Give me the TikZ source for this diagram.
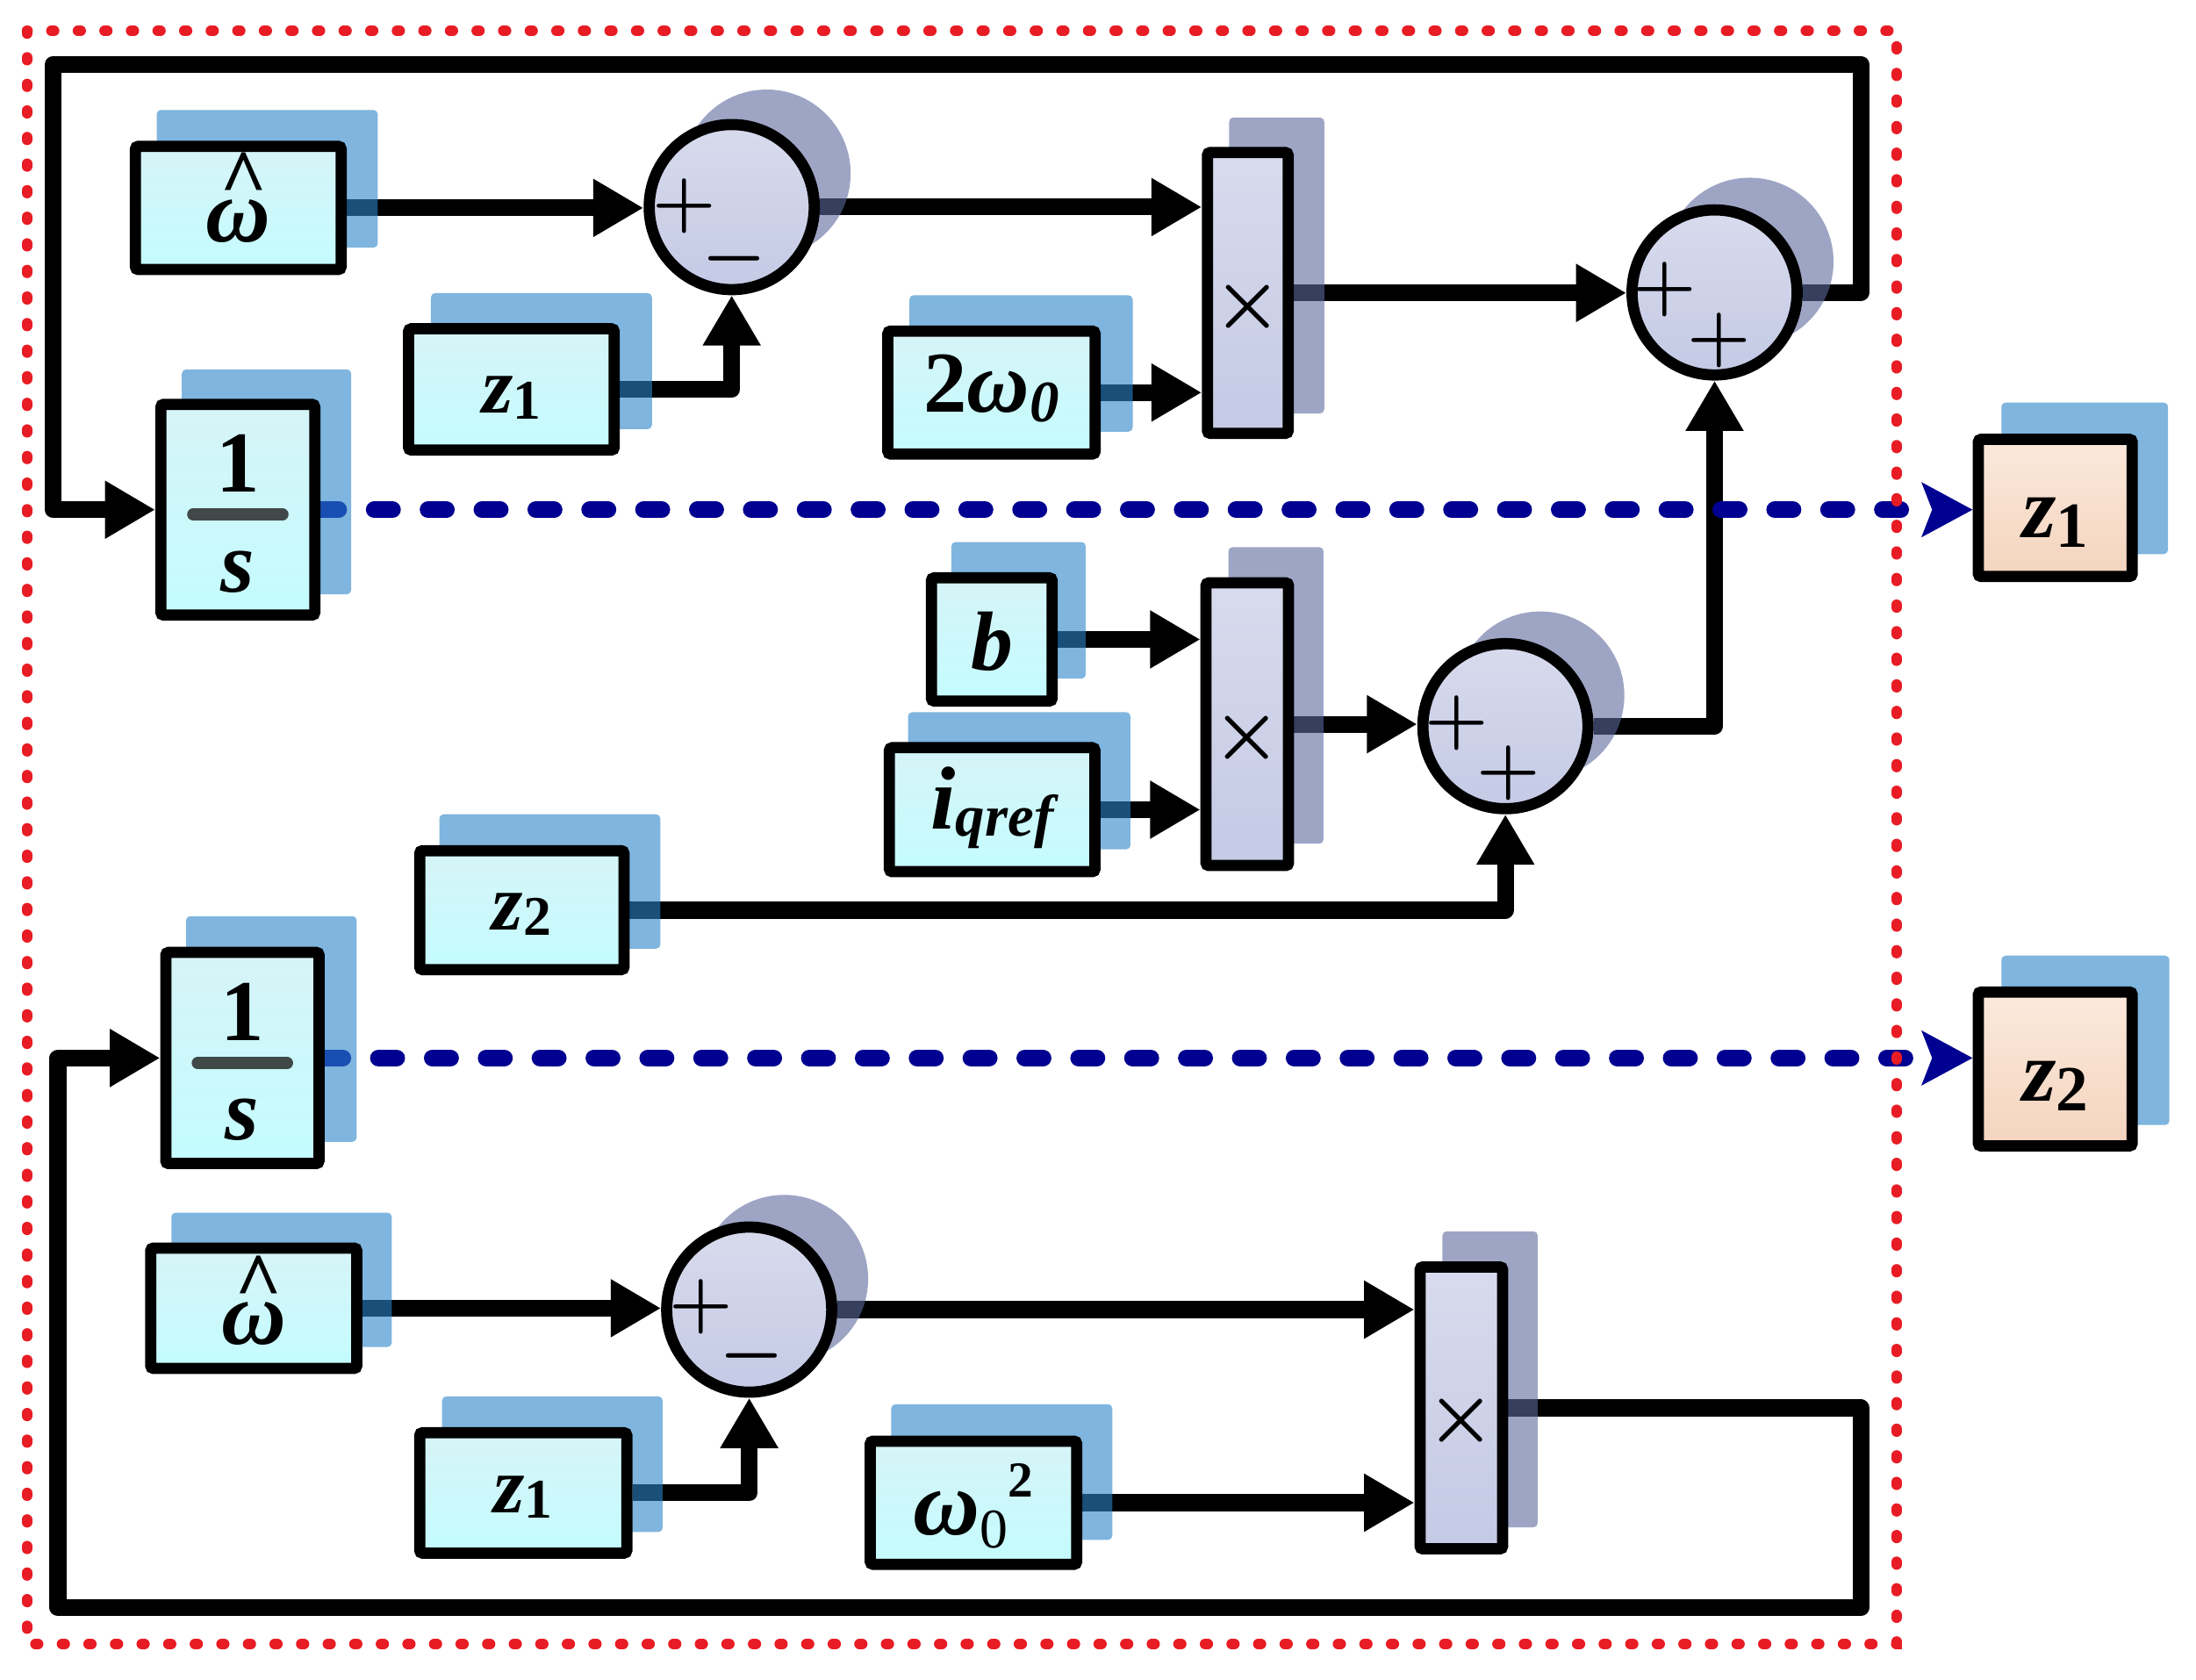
\RequirePackage{fix-cm}
\documentclass[tikz,border=0pt]{standalone}
\usepackage{fontspec}
\setmainfont{Liberation Serif}
\usetikzlibrary{arrows.meta,calc}
\definecolor{cyT}{RGB}{214,244,247}
\definecolor{cyB}{RGB}{196,252,255}
\definecolor{shB}{RGB}{42,132,200}
\definecolor{lvT}{RGB}{216,219,237}
\definecolor{lvB}{RGB}{196,202,229}
\definecolor{shL}{RGB}{93,105,157}
\definecolor{pcT}{RGB}{251,233,220}
\definecolor{pcB}{RGB}{244,212,190}
\definecolor{navyc}{RGB}{0,0,145}
\definecolor{redc}{RGB}{232,28,36}
\definecolor{barc}{RGB}{64,72,72}
\pgfdeclarelayer{conn}\pgfdeclarelayer{shad}\pgfdeclarelayer{front}
\pgfsetlayers{conn,shad,main,front}
\newcommand\fsz[1]{\fontsize{#1}{#1}\selectfont}
\newcommand\what[1]{{\fsz{#1}\bfseries\itshape\ooalign{ω\cr\hidewidth\kern0.1em\raisebox{0.4em}{\fsz{58}\textasciicircum}\hidewidth\cr}}}
\newcommand\blk[7]{%
  \pgfmathsetmacro\bw{#4-#2-8}%
  \pgfmathsetmacro\bh{#5-#3-8}%
  \node[#6, minimum width=\bw pt, minimum height=\bh pt] (#1) at ({(#2+#4)/2},{(#3+#5)/2}) {#7};}
\begin{document}
\begin{tikzpicture}[x=1pt,y=-1pt,
  bbox/.style={draw, line width=8pt, top color=cyT, bottom color=cyB, rounded corners=2pt, inner sep=0pt, text depth=0pt},
  pbox/.style={draw, line width=8pt, top color=pcT, bottom color=pcB, rounded corners=2pt, inner sep=0pt, text depth=0pt},
  mbox/.style={draw, line width=8pt, top color=lvT, bottom color=lvB, rounded corners=2pt, inner sep=0pt},
  sumc/.style={circle, draw, line width=8pt, top color=lvT, bottom color=lvB, minimum size=118pt, inner sep=0pt},
  shadowB/.style={fill=shB, fill opacity=0.6, rounded corners=3pt},
  shadowL/.style={fill=shL, fill opacity=0.6, rounded corners=3pt},
  arr/.style={draw=black, line width=12pt, line join=round, -{Triangle[length=36pt,width=39pt]}},
  bluearr/.style={draw=navyc, line width=12pt, line cap=round, dash pattern=on 13pt off 25.5pt, -{Stealth[length=36pt,width=38pt,inset=7pt]}},
  redbor/.style={draw=redc, line width=7.5pt, line cap=round, dash pattern=on 2pt off 17pt},
  fracbar/.style={draw=barc, line width=8.5pt, line cap=round},
  sgn/.style={inner sep=0pt, font=\fsz{52}\boldmath, text height=26pt, text depth=0pt},
  mul/.style={inner sep=0pt, font=\fsz{55}\boldmath},
  num/.style={inner sep=0pt, anchor=base, font=\fsz{62}\bfseries}
]
\useasboundingbox (0,0) rectangle (1569.6,1200.1);

% ---------- blocks ----------
\blk{w1}{92.8}{100.6}{247.8}{196.6}{bbox, text height=48pt}{\what{64}}
\blk{za}{288}{231}{443}{325.6}{bbox, text height=34pt}{{\fsz{57}\bfseries\itshape z\raisebox{-4pt}{\upshape\fsz{40}1}}}
\blk{tw}{630.6}{232.6}{786.7}{328.5}{bbox, text height=28pt}{{\fsz{62}\bfseries 2\itshape ω\raisebox{-7pt}{\fsz{42}0}}}
\blk{i1}{111}{285}{229}{443.6}{bbox}{}
\blk{bb}{661.7}{409}{756}{505}{bbox, text height=44pt}{{\fsz{60}\bfseries\itshape b}}
\blk{iq}{631.7}{530.4}{786.6}{627}{bbox, text height=28pt}{{\fsz{64}\bfseries\itshape i\raisebox{-5pt}{\fsz{42}qref}}}
\blk{zb}{296}{604}{450}{697}{bbox, text height=28pt}{{\fsz{57}\bfseries\itshape z\raisebox{-4pt}{\upshape\fsz{40}2}}}
\blk{i2}{114.5}{676.7}{232}{835.6}{bbox}{}
\blk{w2}{103.7}{888}{259}{982}{bbox, text height=52pt}{\what{64}}
\blk{zc}{296}{1020}{452}{1114}{bbox, text height=28pt}{{\fsz{57}\bfseries\itshape z\raisebox{-4pt}{\upshape\fsz{40}1}}}
\blk{wq}{618}{1026}{773.6}{1122}{bbox, text height=46pt}{{\fsz{66}\bfseries\itshape ω\raisebox{-9pt}{\mdseries\upshape\fsz{40}0}\raisebox{27pt}{\upshape\bfseries\fsz{36}2}}}
\blk{o1}{1410}{310}{1528}{416}{pbox, text height=42pt}{{\fsz{62}\bfseries\itshape z\raisebox{-7pt}{\upshape\fsz{46}1}}}
\blk{o2}{1410}{705}{1528}{823}{pbox, text height=46pt}{{\fsz{62}\bfseries\itshape z\raisebox{-7pt}{\upshape\fsz{46}2}}}
\blk{m1}{859}{105}{924.7}{313.7}{mbox}{}
\blk{m2}{858}{412.6}{925}{622.6}{mbox}{}
\blk{m3}{1011}{901.5}{1078}{1111}{mbox}{}

\node[sumc] (s1) at (523,148) {};
\node[sumc] (s2) at (1076,519) {};
\node[sumc] (s3) at (1225.5,209) {};
\node[sumc] (s4) at (535.5,936) {};

% ---------- block contents ----------
\node[num] (i1n) at ($(i1.center)+(0,-12.5)$) {1};
\node[num, font=\fsz{62}\bfseries\itshape] (i1d) at ($(i1.center)+(0,58.7)$) {s};
\draw[fracbar] ($(i1.center)+(-32,3.4)$) -- ($(i1.center)+(32,3.4)$);
\node[num] (i2n) at ($(i2.center)+(0,-12.5)$) {1};
\node[num, font=\fsz{62}\bfseries\itshape] (i2d) at ($(i2.center)+(0,58.7)$) {s};
\draw[fracbar] ($(i2.center)+(-32,3.6)$) -- ($(i2.center)+(32,3.6)$);

\node[mul] (m1x) at ($(m1.center)+(0,10)$) {$\times$};
\node[mul] (m2x) at ($(m2.center)+(0,10)$) {$\times$};
\node[mul] (m3x) at ($(m3.center)+(0,9)$) {$\times$};

\node[sgn] (s1a) at ($(s1)+(-34,-1)$) {$+$};
\node[sgn] (s1b) at ($(s1)+(2,37)$) {$-$};
\node[sgn] (s2a) at ($(s2)+(-35,-2)$) {$+$};
\node[sgn] (s2b) at ($(s2)+(2.5,33.5)$) {$+$};
\node[sgn] (s3a) at ($(s3)+(-35.5,-2)$) {$+$};
\node[sgn] (s3b) at ($(s3)+(3.5,34)$) {$+$};
\node[sgn] (s4a) at ($(s4)+(-34.5,-2)$) {$+$};
\node[sgn] (s4b) at ($(s4)+(2,33)$) {$-$};

% ---------- free corners of the feedback loops ----------
\coordinate (tr) at (1330,46);
\coordinate (tl) at (38,46);
\coordinate (br) at (1330,1149);
\coordinate (bl) at (41.4,1149);

% ---------- shadows ----------
\begin{pgfonlayer}{shad}
\fill[shadowB] (112,78.6) rectangle (270,177);
\fill[shadowB] (308,209.5) rectangle (466,306.7);
\fill[shadowB] (650,211) rectangle (809.6,308.5);
\fill[shadowB] (130,264) rectangle (251,424.7);
\fill[shadowB] (680,387.4) rectangle (776,485);
\fill[shadowB] (649,509) rectangle (808,607);
\fill[shadowB] (314,582) rectangle (472,678);
\fill[shadowB] (133,654.8) rectangle (255,816);
\fill[shadowB] (122.5,866.7) rectangle (280,962.7);
\fill[shadowB] (316,998) rectangle (473.6,1095);
\fill[shadowB] (637,1003.6) rectangle (795,1100.6);
\fill[shadowB] (1430.5,287.7) rectangle (1549.6,396);
\fill[shadowB] (1430.5,683) rectangle (1550.6,804);
\fill[shadowL] (878.5,84) rectangle (946.5,295.5);
\fill[shadowL] (878,391) rectangle (946,603);
\fill[shadowL] (1031,880) rectangle (1099,1091.6);
\fill[shadowL] ($(s1)+(25,-24)$) circle[radius=60];
\fill[shadowL] ($(s2)+(25,-22)$) circle[radius=60];
\fill[shadowL] ($(s3)+(25,-22)$) circle[radius=60];
\fill[shadowL] ($(s4)+(25,-22)$) circle[radius=60];
\end{pgfonlayer}

% ---------- connectors ----------
\begin{pgfonlayer}{conn}
\draw[arr] (w1.east) -- (w1.east -| s1.west);
\draw[arr] (za.east) -| (s1.south);
\draw[arr] (s1.east) -- (s1.east -| m1.west);
\draw[arr] (tw.east) -- (tw.east -| m1.west);
\draw[arr] (m1.east) -- (m1.east -| s3.west);
\draw[arr] (s3.east) -| (tr) -- (tl) |- (i1.west);
\draw[arr] (bb.east) -- (bb.east -| m2.west);
\draw[arr] (iq.east) -- (iq.east -| m2.west);
\draw[arr] (m2.east) -- (m2.east -| s2.west);
\draw[arr] (s2.east) -| (s3.south);
\draw[arr] (zb.east) -| (s2.south);
\draw[arr] (w2.east) -- (w2.east -| s4.west);
\draw[arr] (zc.east) -| (s4.south);
\draw[arr] (s4.east) -- (s4.east -| m3.west);
\draw[arr] (wq.east) -- (wq.east -| m3.west);
\draw[arr] (m3.east) -| (br) -- (bl) |- (i2.west);
\draw[bluearr] (i1.east) -- (i1.east -| o1.west);
\draw[bluearr] (i2.east) -- (i2.east -| o2.west);
\end{pgfonlayer}

% ---------- red frame ----------
\begin{pgfonlayer}{front}
\draw[redbor] (19.3,22) rectangle (1355.5,1175);
\end{pgfonlayer}
\end{tikzpicture}
\end{document}
